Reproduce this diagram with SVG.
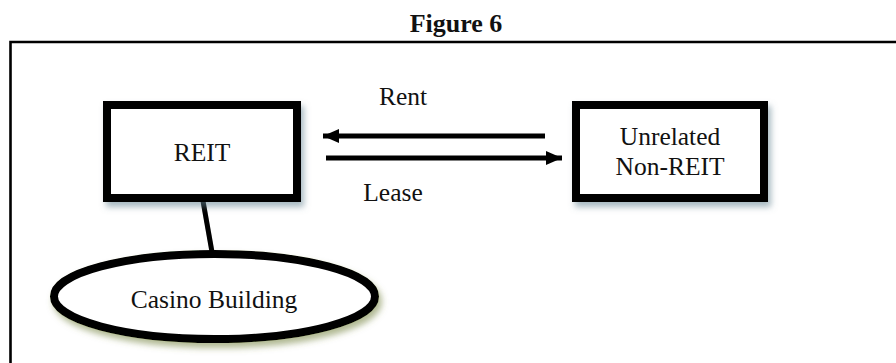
<svg xmlns="http://www.w3.org/2000/svg" width="896" height="363" viewBox="0 0 896 363">
<defs>
<style>
.t{font-family:"Liberation Serif","Times New Roman",serif;font-size:25.5px;fill:#111;text-anchor:middle}
.box{fill:#fff;stroke:#000;stroke-width:8}
.ln{stroke:#000;stroke-width:5;fill:none}
</style>
<filter id="sb" x="-10%" y="-20%" width="130%" height="150%">
<feDropShadow dx="3" dy="5" stdDeviation="3" flood-color="#5f7f8f" flood-opacity="0.55"/>
</filter>
<filter id="sg" x="-10%" y="-20%" width="130%" height="150%">
<feDropShadow dx="3" dy="5" stdDeviation="3" flood-color="#6f7f3a" flood-opacity="0.55"/>
</filter>
<marker id="ah" viewBox="0 0 16 14" refX="16" refY="7" markerWidth="16" markerHeight="14" markerUnits="userSpaceOnUse" orient="auto">
<path d="M0,0 L16,7 L0,14 Z" fill="#000"/>
</marker>
</defs>
<rect width="896" height="363" fill="#fff"/>
<text x="456" y="32" style="font-family:'Liberation Serif','Times New Roman',serif;font-size:26px;font-weight:bold;text-anchor:middle;fill:#111">Figure 6</text>
<path d="M10.5,363 V42 H896" fill="none" stroke="#000" stroke-width="2.6"/>
<g id="connectors">
<line class="ln" x1="203" y1="201" x2="212" y2="252"/>
<line class="ln" x1="545" y1="136" x2="323" y2="136" marker-end="url(#ah)"/>
<line class="ln" x1="326" y1="158" x2="562" y2="158" marker-end="url(#ah)"/>
<text class="t" x="403" y="105">Rent</text>
<text class="t" x="393" y="201">Lease</text>
</g>
<g id="reit">
<rect class="box" x="107" y="105" width="190" height="93" filter="url(#sb)"/>
<text class="t" x="202" y="161">REIT</text>
</g>
<g id="unrelated">
<rect class="box" x="576" y="105" width="188" height="93" filter="url(#sb)"/>
<text class="t" x="670" y="145">Unrelated</text>
<text class="t" x="670" y="175">Non-REIT</text>
</g>
<g id="casino">
<ellipse cx="214.5" cy="296.5" rx="160.5" ry="42.5" fill="#fff" stroke="#000" stroke-width="8" filter="url(#sg)"/>
<text class="t" x="214" y="308">Casino Building</text>
</g>
</svg>
